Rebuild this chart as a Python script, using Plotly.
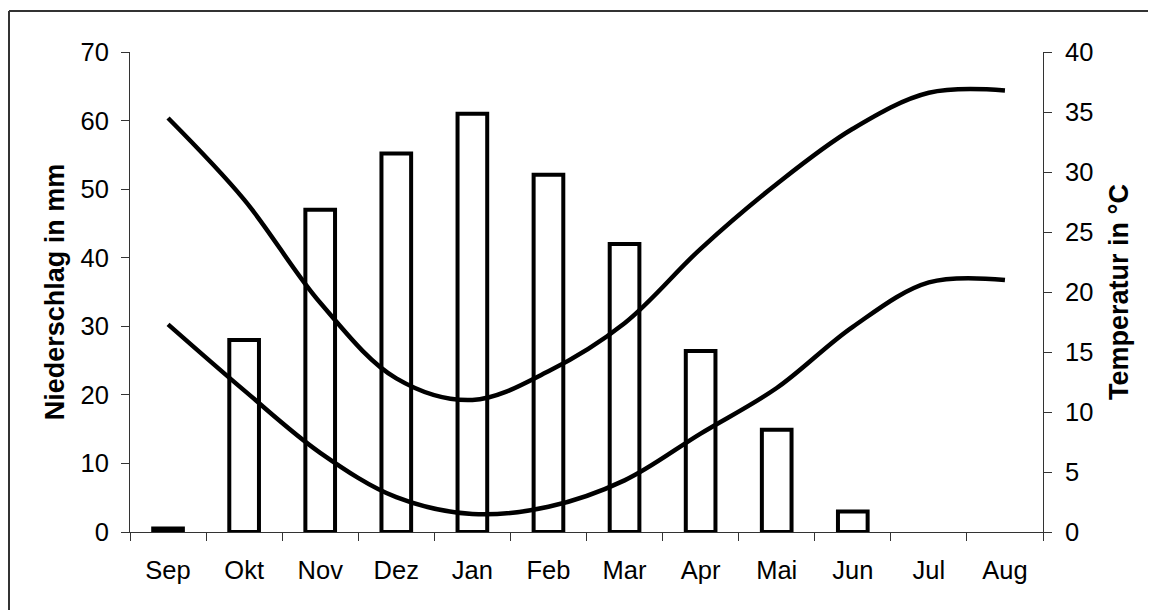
import plotly.graph_objects as go

months = ["Sep", "Okt", "Nov", "Dez", "Jan", "Feb", "Mar", "Apr", "Mai", "Jun", "Jul", "Aug"]
niederschlag = [0.5, 28.0, 47.0, 55.2, 61.0, 52.1, 42.0, 26.4, 14.9, 3.0, 0.0, 0.0]
temp_max = [34.5, 27.7, 19.1, 12.8, 11.0, 13.4, 17.4, 23.6, 29.0, 33.6, 36.6, 36.8]
temp_min = [17.3, 11.8, 6.6, 2.9, 1.5, 2.1, 4.3, 8.2, 12.0, 17.1, 20.8, 21.0]
left_ticks = [0, 10, 20, 30, 40, 50, 60, 70]
right_ticks = [0, 5, 10, 15, 20, 25, 30, 35, 40]

FONT = "Liberation Sans, Arial, sans-serif"

# page body has an 8px margin; figure geometry compensates for it
W, H = 1148, 602
L, R, T, B = 122, 113, 44, 78
pw, ph = W - L - R, H - T - B

fig = go.Figure()
fig.add_trace(go.Bar(
    x=months, y=niederschlag, name="Niederschlag",
    marker=dict(color="white",
                line=dict(color="black", width=[4 if v > 0 else 0 for v in niederschlag])),
    width=0.39,
))
for temps, nm in ((temp_max, "Tmax"), (temp_min, "Tmin")):
    fig.add_trace(go.Scatter(
        x=months, y=temps, name=nm, yaxis="y2", mode="lines",
        line=dict(color="black", width=4.5, shape="spline", smoothing=1.0),
    ))

axis_common = dict(
    showgrid=False, zeroline=False, showline=True, linecolor="#333", linewidth=1,
    ticks="outside", ticklen=8, tickcolor="#333", tickwidth=1,
    tickfont=dict(family=FONT, size=25.5, color="black"),
)

fig.update_layout(
    width=W, height=H,
    margin=dict(l=L, r=R, t=T, b=B),
    plot_bgcolor="white", paper_bgcolor="white",
    showlegend=False, bargap=0.6,
    font=dict(family=FONT, color="black"),
    xaxis=dict(**axis_common, tickson="boundaries", ticklabelstandoff=15),
    yaxis=dict(**axis_common, range=[0, 70], tickvals=left_ticks, ticklabelstandoff=7,
               title=dict(text="<b>Niederschlag in mm</b>", font=dict(family=FONT, size=27), standoff=8)),
    yaxis2=dict(**axis_common, range=[0, 40], tickvals=right_ticks, overlaying="y", side="right",
                ticklabelstandoff=8,
                title=dict(text="<b>Temperatur in °C</b>", font=dict(family=FONT, size=27), standoff=16)),
    shapes=[
        dict(type="line", xref="paper", yref="paper",
             x0=(1 - L) / pw, x1=(W + 10 - L) / pw, y0=(H - B - 3) / ph, y1=(H - B - 3) / ph,
             line=dict(color="#333", width=2)),
        dict(type="line", xref="paper", yref="paper",
             x0=(1 - L) / pw, x1=(1 - L) / pw, y0=(H - B - 3) / ph, y1=-(B + 10) / ph,
             line=dict(color="#333", width=2)),
    ],
)

fig.write_html("out.html")
